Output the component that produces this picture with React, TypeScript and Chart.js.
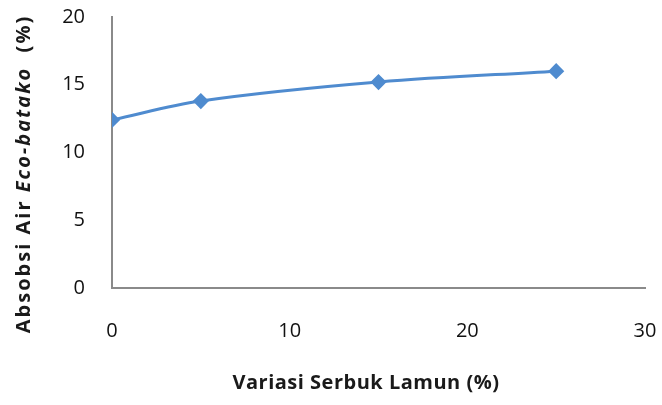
import React, { useEffect, useRef } from "react";
import { Chart, registerables } from "chart.js";

Chart.register(...registerables);

const xValues = [0, 5, 15, 25];
const yValues = [12.4, 13.8, 15.2, 16.0];
const seriesLabel = "Absobsi Air Eco-batako";
const xTitle = "Variasi Serbuk Lamun (%)";
const yTitleParts = [
  { text: "Absobsi Air ", italic: false },
  { text: "Eco-batako", italic: true },
  { text: "  (%)", italic: false },
];

const FONT = "'Open Sans', 'Noto Sans', sans-serif";

const titlesPlugin = {
  id: "titlesPlugin",
  afterDraw(chart: any) {
    const ctx = chart.ctx;
    ctx.save();
    ctx.fillStyle = "#1a1a1a";
    ctx.textBaseline = "middle";
    const size = 20;
    try { (ctx as any).letterSpacing = "2px"; } catch (e) {}
    const fonts = yTitleParts.map(
      (p) => `${p.italic ? "italic " : ""}bold ${size}px ${FONT}`
    );
    let total = 0;
    const widths = yTitleParts.map((p, i) => {
      ctx.font = fonts[i];
      const w = ctx.measureText(p.text).width;
      total += w;
      return w;
    });
    ctx.save();
    ctx.translate(24, 174);
    ctx.rotate(-Math.PI / 2);
    let x = -total / 2;
    yTitleParts.forEach((p, i) => {
      ctx.font = fonts[i];
      ctx.textAlign = "left";
      ctx.fillText(p.text, x, 0);
      x += widths[i];
    });
    ctx.restore();
    try { (ctx as any).letterSpacing = "0.5px"; } catch (e) {}
    ctx.font = `bold ${size}px ${FONT}`;
    ctx.textAlign = "center";
    ctx.fillText(xTitle, 366, 383);
    ctx.restore();
  },
};

export default function App() {
  const ref = useRef<HTMLCanvasElement | null>(null);
  useEffect(() => {
    if (!ref.current) return;
    const chart = new Chart(ref.current, {
      type: "line",
      data: {
        datasets: [
          {
            label: seriesLabel,
            data: xValues.map((x, i) => ({ x, y: yValues[i] })),
            borderColor: "#4f8bcf",
            backgroundColor: "#4f8bcf",
            borderWidth: 3,
            pointStyle: "rectRot",
            pointRadius: 6,
            pointHoverRadius: 6,
            tension: 0.35,
            fill: false,
          },
        ],
      },
      options: {
        responsive: false,
        animation: false,
        layout: { padding: { top: 17, right: 17, left: 0, bottom: 0 } },
        plugins: { legend: { display: false }, tooltip: { enabled: false } },
        scales: {
          x: {
            type: "linear",
            min: 0,
            max: 30,
            grid: { display: false, drawTicks: false },
            border: { display: true, color: "#8a8a8a", width: 2 },
            ticks: {
              stepSize: 10,
              padding: 31,
              color: "#111",
              font: { family: FONT, size: 20 },
              maxRotation: 0,
            },
            afterFit: (scale: any) => {
              scale.height = 117;
              scale.paddingLeft = 0;
              scale.paddingRight = 0;
            },
          },
          y: {
            min: 0,
            max: 20,
            grid: { display: false, drawTicks: false },
            border: { display: true, color: "#8a8a8a", width: 2 },
            ticks: {
              stepSize: 5,
              padding: 27,
              color: "#111",
              font: { family: FONT, size: 20 },
            },
            afterFit: (scale: any) => {
              scale.width = 112;
              scale.paddingTop = 0;
              scale.paddingBottom = 0;
            },
          },
        },
      },
      plugins: [titlesPlugin],
    });
    return () => chart.destroy();
  }, []);
  return (
    <div style={{ position: "fixed", left: 0, top: 0, width: 662, height: 405, background: "#fff" }}>
      <canvas ref={ref} width={662} height={405} />
    </div>
  );
}
